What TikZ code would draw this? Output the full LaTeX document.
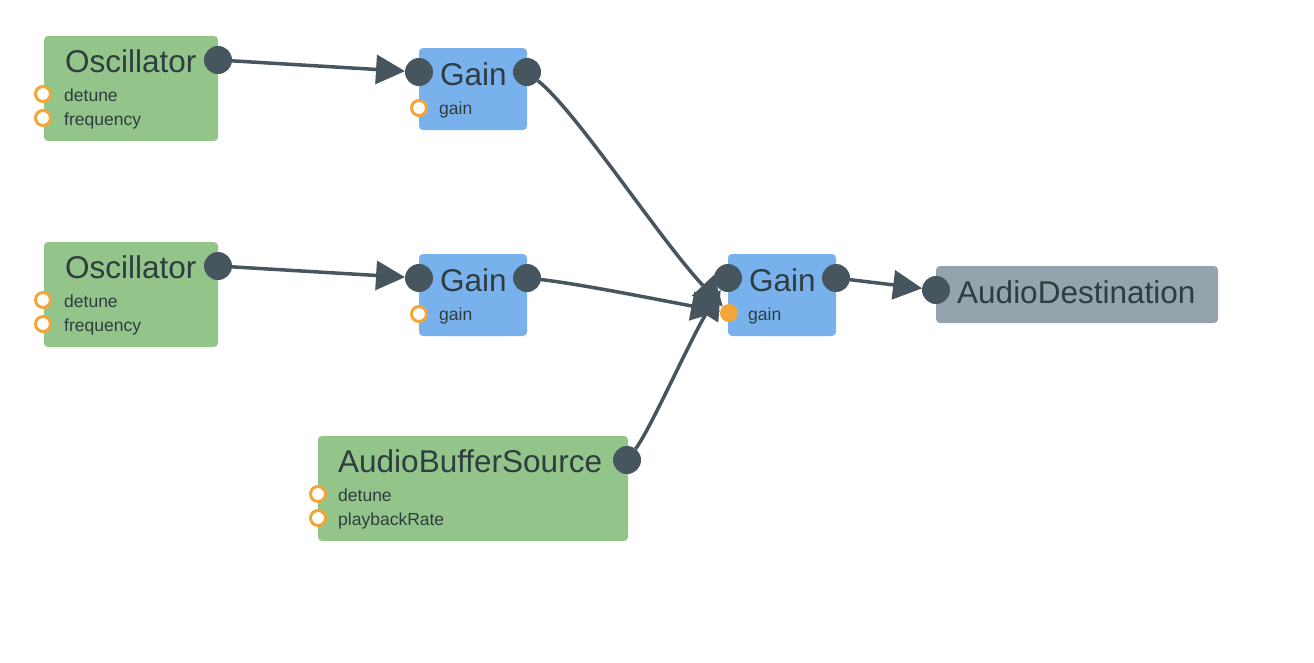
\documentclass[tikz,border=0pt]{standalone}
\usepackage{fontspec}
\setmainfont{Liberation Sans}
\usetikzlibrary{arrows.meta}
\pgfdeclarelayer{bg}
\pgfdeclarelayer{edges}
\pgfsetlayers{bg,edges,main}
\definecolor{boxgreen}{HTML}{93C58A}
\definecolor{boxblue}{HTML}{78B1EC}
\definecolor{boxgrey}{HTML}{94A3AC}
\definecolor{portdark}{HTML}{46555E}
\definecolor{portorange}{HTML}{F2A63A}
\definecolor{txt}{HTML}{2F3D40}
\begin{document}
\begin{tikzpicture}[x=1pt,y=-1pt,
  box/.style={rounded corners=4pt, inner sep=0pt, outer sep=0pt, anchor=north west},
  title/.style={anchor=base west, inner sep=0pt, text=txt, font=\fontsize{31.5}{34}\selectfont},
  ptext/.style={anchor=base west, inner sep=0pt, text=txt, font=\fontsize{17.5}{20}\selectfont},
  outport/.style={circle, fill=portdark, minimum size=28pt, inner sep=0pt, outer sep=0pt},
  param/.style={circle, draw=portorange, line width=3pt, fill=white, minimum size=15pt, inner sep=0pt, outer sep=0pt},
  paramon/.style={circle, fill=portorange, minimum size=18pt, inner sep=0pt, outer sep=0pt},
  edge/.style={draw=portdark, line width=3.5pt, -{Triangle[length=29pt,width=29pt]}}
]
\useasboundingbox (0,0) rectangle (1314,662);
\begin{pgfonlayer}{bg}
  \node (osc1box) [box, fill=boxgreen, minimum width=174pt, minimum height=105pt] at (44,36) {};
  \node (gain1box) [box, fill=boxblue, minimum width=108pt, minimum height=82pt] at (419,48) {};
  \node (osc2box) [box, fill=boxgreen, minimum width=174pt, minimum height=105pt] at (44,242) {};
  \node (gain2box) [box, fill=boxblue, minimum width=108pt, minimum height=82pt] at (419,254) {};
  \node (gain3box) [box, fill=boxblue, minimum width=108pt, minimum height=82pt] at (728,254) {};
  \node (destbox) [box, fill=boxgrey, minimum width=282pt, minimum height=57pt] at (936,266) {};
  \node (absbox) [box, fill=boxgreen, minimum width=310pt, minimum height=105pt] at (318,436) {};
\end{pgfonlayer}
% titles
\node (osc1t) [title] at (65,72.5) {Oscillator};
\node (gain1t) [title] at (440,85.5) {Gain};
\node (osc2t) [title] at (65,278.5) {Oscillator};
\node (gain2t) [title] at (440,291.5) {Gain};
\node (gain3t) [title] at (749,291.5) {Gain};
\node (destt) [title] at (957,303) {AudioDestination};
\node (abst) [title] at (338,472) {AudioBufferSource};
% param labels
\node (osc1dt) [ptext] at (64,101) {detune};
\node (osc1ft) [ptext] at (64,125) {frequency};
\node (gain1gt) [ptext] at (439,114) {gain};
\node (osc2dt) [ptext] at (64,307) {detune};
\node (osc2ft) [ptext] at (64,331) {frequency};
\node (gain2gt) [ptext] at (439,320) {gain};
\node (gain3gt) [ptext] at (748,320) {gain};
\node (absdt) [ptext] at (338,501) {detune};
\node (abspt) [ptext] at (338,525) {playbackRate};
% ports
\node (osc1out) [outport] at (218,60) {};
\node (osc1det) [param] at (43,94) {};
\node (osc1freq) [param] at (43,118) {};
\node (gain1in) [outport] at (419,72) {};
\node (gain1out) [outport] at (527,72) {};
\node (gain1g) [param] at (419,108) {};
\node (osc2out) [outport] at (218,266) {};
\node (osc2det) [param] at (43,300) {};
\node (osc2freq) [param] at (43,324) {};
\node (gain2in) [outport] at (419,278) {};
\node (gain2out) [outport] at (527,278) {};
\node (gain2g) [param] at (419,314) {};
\node (gain3in) [outport] at (728,278) {};
\node (gain3out) [outport] at (836,278) {};
\node (gain3g) [paramon] at (729,313) {};
\node (destin) [outport] at (936,290) {};
\node (absout) [outport] at (627,460) {};
\node (absdet) [param] at (318,494) {};
\node (absrate) [param] at (318,518) {};
% edges
\begin{pgfonlayer}{edges}
  \draw[edge] (osc1out) -- (gain1in);
  \draw[edge] (osc2out) -- (gain2in);
  \draw[edge] (gain1out) .. controls (577,112) and (660,240) .. (gain3g);
  \draw[edge] (gain2out) .. controls (580,284) and (660,300) .. (gain3g);
  \draw[edge] (absout) .. controls (650,430) and (690,340) .. (gain3in);
  \draw[edge] (gain3out) -- (destin);
\end{pgfonlayer}
\end{tikzpicture}
\end{document}
